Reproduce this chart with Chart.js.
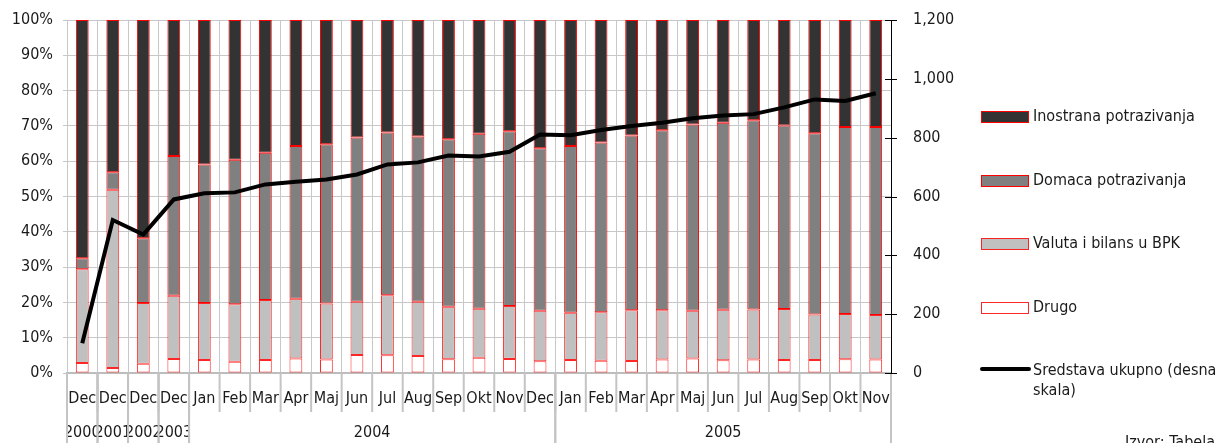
<!DOCTYPE html>
<html>
<head>
<meta charset="utf-8">
<script src="https://cdn.jsdelivr.net/npm/chart.js@4.4.1/dist/chart.umd.min.js"></script>
<style>
    html, body { margin: 0; padding: 0; background: #fff; }
    #wrap { width: 1223px; height: 443px; }
</style>
</head>
<body>
<div id="wrap"><canvas id="canvas" width="1223" height="443"></canvas></div>
<script>
// Category axis: month on first row, year groups on the second
var monthLabels = ['Dec', 'Dec', 'Dec', 'Dec',
    'Jan', 'Feb', 'Mar', 'Apr', 'Maj', 'Jun', 'Jul', 'Aug', 'Sep', 'Okt', 'Nov', 'Dec',
    'Jan', 'Feb', 'Mar', 'Apr', 'Maj', 'Jun', 'Jul', 'Aug', 'Sep', 'Okt', 'Nov'];
var yearLabels = ['2000', '2001', '2002', '2003', '2004', '2005'];
var yearSpans = [1, 1, 1, 1, 12, 11];

// Shares in %, bottom to top
var drugo = [2.8, 1.4, 2.6, 4.0, 3.7, 3.2, 3.7, 4.1, 3.8, 5.1, 5.0, 4.8, 3.9, 4.3, 4.0, 3.3,
    3.7, 3.5, 3.4, 3.8, 4.1, 3.6, 3.8, 3.7, 3.7, 3.9, 3.8];
var valuta = [26.6, 50.5, 17.2, 17.9, 16.1, 16.3, 17.0, 16.9, 15.9, 15.1, 17.0, 15.4, 14.9, 13.9, 15.0, 14.3,
    13.4, 13.7, 14.4, 14.0, 13.5, 14.3, 14.2, 14.4, 12.9, 12.8, 12.6];
var domaca = [3.1, 5.0, 18.4, 39.6, 39.3, 40.9, 41.7, 43.3, 45.1, 46.5, 46.1, 46.8, 47.4, 49.6, 49.5, 46.1,
    47.2, 48.1, 49.5, 51.0, 52.8, 53.0, 53.6, 52.0, 51.3, 53.0, 53.3];
var inostrana = [67.5, 43.1, 61.8, 38.5, 40.9, 39.6, 37.6, 35.7, 35.2, 33.3, 31.9, 33.0, 33.8, 32.2, 31.5, 36.3,
    35.7, 34.7, 32.7, 31.2, 29.6, 29.1, 28.4, 29.9, 32.1, 30.3, 30.3];
// Total assets (right scale)
var ukupno = [101, 520, 471, 590, 611, 614, 641, 650, 658, 675, 709, 716, 739, 736, 752, 811,
    808, 826, 840, 851, 866, 875, 880, 903, 930, 925, 951];

var FONT = '"DejaVu Sans Condensed", "DejaVu Sans", sans-serif';
var TEXT = '#1a1a1a';
var GRID = '#c8c8c8';

Chart.defaults.font.family = FONT;
Chart.defaults.font.size = 16;
Chart.defaults.color = TEXT;

// Excel style two level category axis
var multiAxis = {
    id: 'multiAxis',
    afterDraw: function(chart) {
        var ctx = chart.ctx;
        var x = chart.scales.x;
        var top = chart.chartArea.bottom;
        var half = (x.getPixelForValue(1) - x.getPixelForValue(0)) / 2;
        ctx.save();
        ctx.strokeStyle = '#c4c4c4';
        ctx.lineWidth = 2;
        ctx.fillStyle = TEXT;
        ctx.font = '16px ' + FONT;
        ctx.textAlign = 'center';
        ctx.textBaseline = 'middle';

        // short separators and month names
        for (var i = 0; i < monthLabels.length; i++) {
            var c = x.getPixelForValue(i);
            ctx.beginPath();
            ctx.moveTo(c - half, top);
            ctx.lineTo(c - half, top + 39);
            ctx.stroke();
            ctx.fillText(monthLabels[i], c, top + 26);
        }

        // long separators and year names
        var start = 0;
        for (var j = 0; j < yearLabels.length; j++) {
            var l = x.getPixelForValue(start) - half;
            var r = x.getPixelForValue(start + yearSpans[j] - 1) + half;
            ctx.beginPath();
            ctx.moveTo(l, top);
            ctx.lineTo(l, chart.height);
            ctx.moveTo(r, top);
            ctx.lineTo(r, chart.height);
            ctx.stroke();
            ctx.save();
            ctx.beginPath();
            ctx.rect(l + 1, top + 40, r - l - 1, 40);
            ctx.clip();
            ctx.fillText(yearLabels[j], (l + r) / 2, top + 60);
            ctx.restore();
            start += yearSpans[j];
        }

        // right axis line with crossing ticks
        var y1 = chart.scales.y1;
        ctx.strokeStyle = '#000';
        ctx.lineWidth = 1;
        ctx.beginPath();
        ctx.moveTo(y1.left + 0.5, y1.top);
        ctx.lineTo(y1.left + 0.5, y1.bottom);
        y1.ticks.forEach(function(t) {
            var py = Math.round(y1.getPixelForValue(t.value)) + 0.5;
            ctx.moveTo(y1.left - 6, py);
            ctx.lineTo(y1.left + 6, py);
        });
        ctx.stroke();
        ctx.restore();
    }
};

// legend on the right, one entry per row
var sideLegend = {
    id: 'sideLegend',
    afterDraw: function(chart) {
        var ctx = chart.ctx;
        var rows = [117, 181, 244, 308, 370];
        var order = [4, 3, 2, 1, 0];
        ctx.save();
        ctx.font = '16px ' + FONT;
        ctx.textBaseline = 'middle';
        ctx.textAlign = 'left';
        order.forEach(function(idx, k) {
            var ds = chart.data.datasets[idx];
            var y = rows[k];
            if (ds.type === 'line') {
                ctx.strokeStyle = ds.borderColor;
                ctx.lineWidth = 4;
                ctx.lineCap = 'round';
                ctx.beginPath();
                ctx.moveTo(982, y - 1);
                ctx.lineTo(1029, y - 1);
                ctx.stroke();
                ctx.fillStyle = TEXT;
                ctx.fillText('Sredstava ukupno (desna', 1033, y + 1);
                ctx.fillText('skala)', 1033, y + 21);
            } else {
                ctx.fillStyle = ds.backgroundColor;
                ctx.fillRect(981.5, y - 5.5, 47, 11);
                ctx.strokeStyle = ds.borderColor;
                ctx.lineWidth = 1;
                ctx.strokeRect(981.5, y - 5.5, 47, 11);
                ctx.fillStyle = TEXT;
                ctx.fillText(ds.label, 1033, y);
            }
        });
        ctx.textBaseline = 'alphabetic';
        ctx.fillText('Izvor: Tabela', 1125, 447);
        ctx.restore();
    }
};

function barSet(label, data, fill, edge) {
    return {
        type: 'bar',
        label: label,
        data: data,
        backgroundColor: fill,
        borderColor: edge,
        borderWidth: 1,
        borderSkipped: false,
        yAxisID: 'y',
        stack: 'shares',
        order: 1,
        categoryPercentage: 1,
        barPercentage: 0.42
    };
}

// keep the plot box fixed: no extra room for half labels
function noPad(s) {
    s.paddingTop = 0;
    s.paddingBottom = 0;
}

var ctx = document.getElementById('canvas').getContext('2d');
var chart = new Chart(ctx, {
    data: {
        labels: monthLabels,
        datasets: [
            {
                type: 'line',
                label: 'Sredstava ukupno (desna skala)',
                data: ukupno,
                borderColor: '#000000',
                borderWidth: 4,
                pointRadius: 0,
                tension: 0,
                yAxisID: 'y1',
                order: 0
            },
            barSet('Drugo', drugo, '#ffffff', 'rgba(255,0,0,0.85)'),
            barSet('Valuta i bilans u BPK', valuta, '#c0c0c0', 'rgba(255,0,0,0.85)'),
            barSet('Domaca potrazivanja', domaca, '#808080', '#ff0000'),
            barSet('Inostrana potrazivanja', inostrana, '#333333', '#ff0000')
        ]
    },
    options: {
        responsive: false,
        animation: false,
        layout: { padding: { top: 20, left: 0, right: 0, bottom: 0 } },
        plugins: {
            legend: { display: false },
            tooltip: { enabled: false }
        },
        scales: {
            x: {
                stacked: true,
                offset: true,
                grid: { offset: true, color: GRID, drawTicks: false },
                border: { color: '#bdbdbd', width: 2 },
                ticks: { display: false },
                afterFit: function(s) { s.height = 70; }
            },
            y: {
                position: 'left',
                stacked: true,
                min: 0,
                max: 100,
                grid: { color: GRID, tickLength: 4 },
                border: { display: false },
                ticks: {
                    stepSize: 10,
                    padding: 10,
                    callback: function(v) { return v + '%'; }
                },
                afterFit: function(s) { s.width = 67; noPad(s); }
            },
            y1: {
                position: 'right',
                min: 0,
                max: 1200,
                grid: { display: false },
                border: { display: false },
                ticks: {
                    stepSize: 200,
                    padding: 14,
                    callback: function(v) { return v.toLocaleString('en-US'); }
                },
                afterFit: function(s) { s.width = 332; noPad(s); }
            }
        }
    },
    plugins: [multiAxis, sideLegend]
});
</script>
</body>
</html>
